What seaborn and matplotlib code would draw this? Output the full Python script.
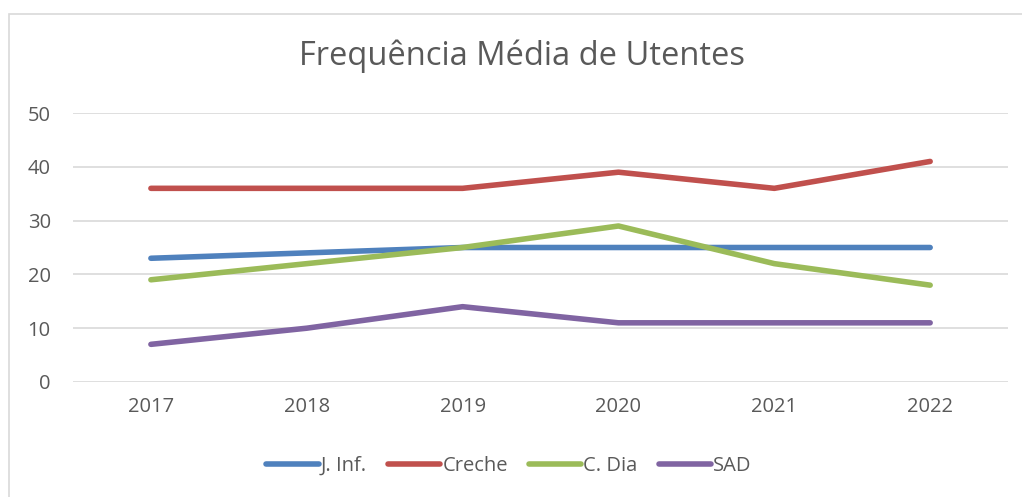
import matplotlib
matplotlib.use("Agg")
import matplotlib.pyplot as plt
import matplotlib.patches as patches
import pandas as pd
import seaborn as sns

anos = ["2017", "2018", "2019", "2020", "2021", "2022"]
j_inf = [23, 24, 25, 25, 25, 25]
creche = [36, 36, 36, 39, 36, 41]
c_dia = [19, 22, 25, 29, 22, 18]
sad = [7, 10, 14, 11, 11, 11]

series = {"J. Inf.": j_inf, "Creche": creche, "C. Dia": c_dia, "SAD": sad}
cores = ["#4F81BD", "#C0504D", "#9BBB59", "#8064A2"]

df = pd.DataFrame(
    [(ano, nome, v) for nome, vals in series.items() for ano, v in zip(anos, vals)],
    columns=["Ano", "Serie", "Valor"],
)

sns.set_style("white")
plt.rcParams["font.family"] = ["Open Sans", "DejaVu Sans"]
texto = "#595959"

fig = plt.figure(figsize=(10.22, 4.97), dpi=100)
ax = fig.add_axes([0.0714, 0.2314, 0.915, 0.5412])

# chart frame like the spreadsheet export
fig.patches.append(patches.Rectangle((9 / 1022, -0.01), 1.02, 1 - 14 / 497 + 0.01,
                                     transform=fig.transFigure, fill=False,
                                     edgecolor="#D9D9D9", linewidth=1.2))

sns.lineplot(data=df, x="Ano", y="Valor", hue="Serie", palette=cores,
             linewidth=4, sort=False, ax=ax, legend=False)
for ln in ax.lines:
    ln.set_solid_capstyle("round")
    ln.set_solid_joinstyle("round")

ax.set_xlim(-0.5, 5.5)
ax.set_ylim(0, 50)
ax.set_yticks(range(0, 51, 10))
ax.yaxis.grid(True, color="#D9D9D9", linewidth=1.2)
ax.set_axisbelow(True)
for s in ax.spines.values():
    s.set_visible(False)
ax.set_xlabel("")
ax.set_ylabel("")
ax.tick_params(axis="both", length=0, labelsize=14.5, colors=texto)
ax.tick_params(axis="x", pad=11)
ax.tick_params(axis="y", pad=16)

fig.text(0.511, 0.886, "Frequência Média de Utentes", ha="center", va="center",
         fontsize=23.5, color=texto)

handles = [plt.Line2D([], [], color=c, linewidth=4, solid_capstyle="round") for c in cores]
fig.legend(handles, list(series.keys()), loc="center", bbox_to_anchor=(0.498, 0.062),
           ncol=4, frameon=False, fontsize=14.5, labelcolor=texto, handlelength=2.6,
           handletextpad=0.1, columnspacing=1.05)

fig.savefig("out.png", dpi=100)
